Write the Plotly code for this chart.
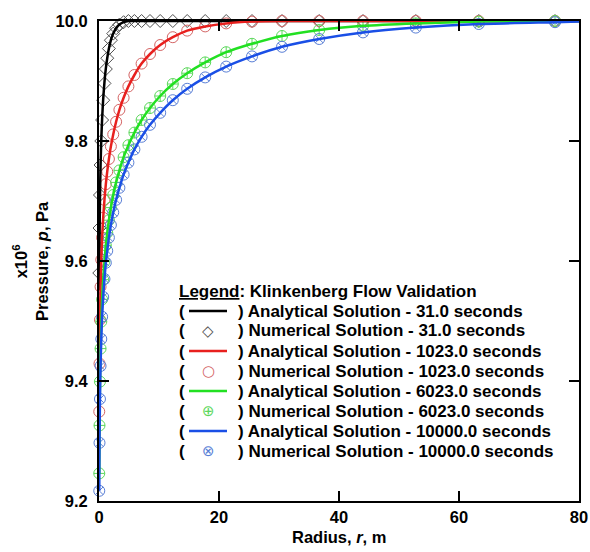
import plotly.graph_objects as go

# ---------------- data ----------------
r_num = [0.043, 0.085, 0.16, 0.26, 0.38, 0.52, 0.70, 0.91, 1.14, 1.37, 1.65, 1.98,
         2.37, 2.85, 3.4, 4.1, 4.9, 5.9, 7.1, 8.5, 10.2, 12.3, 14.7, 17.7, 21.2,
         25.5, 30.5, 36.7, 44.0, 52.8, 63.3, 76.0]

num_31 = [9.580, 9.655, 9.710, 9.760, 9.800, 9.835, 9.868, 9.896, 9.920, 9.938, 9.954, 9.968,
          9.979, 9.988, 9.994, 9.998, 10.0, 10.0, 10.0, 10.0, 10.0, 10.0, 10.0, 10.0, 10.0,
          10.0, 10.0, 10.0, 10.0, 10.0, 10.0, 10.0]
num_1023 = [9.349, 9.429, 9.502, 9.557, 9.602, 9.639, 9.672, 9.702, 9.728, 9.749, 9.770, 9.791,
            9.811, 9.832, 9.852, 9.872, 9.891, 9.910, 9.929, 9.945, 9.960, 9.973, 9.984, 9.991,
            9.996, 9.999, 10.0, 10.0, 10.0, 10.0, 10.0, 10.0]
num_6023 = [9.246, 9.326, 9.399, 9.454, 9.499, 9.536, 9.569, 9.599, 9.626, 9.647, 9.668, 9.689,
            9.710, 9.731, 9.751, 9.773, 9.793, 9.814, 9.835, 9.855, 9.875, 9.895, 9.913, 9.931,
            9.948, 9.962, 9.975, 9.985, 9.992, 9.996, 9.999, 10.0]
num_10000 = [9.217, 9.297, 9.370, 9.425, 9.470, 9.507, 9.540, 9.570, 9.597, 9.617, 9.639, 9.660,
             9.681, 9.702, 9.722, 9.744, 9.764, 9.786, 9.807, 9.827, 9.847, 9.868, 9.887, 9.906,
             9.924, 9.941, 9.957, 9.970, 9.981, 9.989, 9.995, 9.998]

r_ana = [0.043, 0.085, 0.16, 0.26, 0.38, 0.52, 0.70, 0.91, 1.14, 1.37, 1.65, 1.98,
         2.37, 2.85, 3.4, 4.1, 4.9, 5.9, 7.1, 8.5, 10.2, 12.3, 14.7, 17.7, 21.2,
         25.5, 30.5, 36.7, 44.0, 52.8, 63.3, 76.0, 80.0]
ana_31 = [9.551, 9.631, 9.704, 9.759, 9.802, 9.837, 9.870, 9.898, 9.921, 9.938, 9.954, 9.968,
          9.979, 9.988, 9.994, 9.998, 10.0, 10.0, 10.0, 10.0, 10.0, 10.0, 10.0, 10.0, 10.0,
          10.0, 10.0, 10.0, 10.0, 10.0, 10.0, 10.0, 10.0]
ana_1023 = [9.349, 9.429, 9.502, 9.557, 9.602, 9.639, 9.672, 9.702, 9.728, 9.749, 9.770, 9.791,
            9.811, 9.832, 9.852, 9.872, 9.891, 9.910, 9.929, 9.945, 9.960, 9.973, 9.984, 9.991,
            9.996, 9.999, 10.0, 10.0, 10.0, 10.0, 10.0, 10.0, 10.0]
ana_6023 = [9.246, 9.326, 9.399, 9.454, 9.499, 9.536, 9.569, 9.599, 9.626, 9.647, 9.668, 9.689,
            9.710, 9.731, 9.751, 9.773, 9.793, 9.814, 9.835, 9.855, 9.875, 9.895, 9.913, 9.931,
            9.948, 9.962, 9.975, 9.985, 9.992, 9.996, 9.999, 10.0, 10.0]
ana_10000 = [9.217, 9.297, 9.370, 9.425, 9.470, 9.507, 9.540, 9.570, 9.597, 9.617, 9.639, 9.660,
             9.681, 9.702, 9.722, 9.744, 9.764, 9.786, 9.807, 9.827, 9.847, 9.868, 9.887, 9.906,
             9.924, 9.941, 9.957, 9.970, 9.981, 9.989, 9.995, 9.998, 9.999]

times = ["31.0", "1023.0", "6023.0", "10000.0"]
x_ticks = [0, 20, 40, 60, 80]
y_ticks = [9.2, 9.4, 9.6, 9.8, 10.0]
y_tick_text = ["9.2", "9.4", "9.6", "9.8", "10.0"]

# ---------------- styles ----------------
line_colors = ["#000000", "#e8201e", "#22e022", "#1a4fe6"]
marker_colors = ["#505050", "#d46464", "#5cd85c", "#5a7fd6"]
marker_symbols = ["diamond-open", "circle-open", "circle-cross-open", "circle-x-open"]
marker_sizes = [10, 11, 11, 11]
legend_glyphs = ["\u25C7", "\u25CB", "\u2295", "\u2297"]

FONT = "Liberation Sans, Arial, sans-serif"

fig = go.Figure()

nums = [num_31, num_1023, num_6023, num_10000]
anas = [ana_31, ana_1023, ana_6023, ana_10000]

for i in range(4):
    fig.add_trace(go.Scatter(
        x=r_num, y=nums[i], mode="markers", cliponaxis=False,
        marker=dict(symbol=marker_symbols[i], size=marker_sizes[i],
                    color=marker_colors[i], line=dict(width=1, color=marker_colors[i])),
        name=f"Numerical Solution - {times[i]} seconds", showlegend=False))

for i in range(4):
    fig.add_trace(go.Scatter(
        x=r_ana, y=anas[i], mode="lines", cliponaxis=True,
        line=dict(color=line_colors[i], width=2.5, shape="spline", smoothing=0.6),
        name=f"Analytical Solution - {times[i]} seconds", showlegend=False))

axis_common = dict(
    showline=True, linewidth=2, linecolor="black", mirror="ticks",
    ticks="inside", ticklen=10, tickwidth=2, tickcolor="black",
    showgrid=False, zeroline=False, automargin=False,
    tickfont=dict(family=FONT, size=16.5, color="black", weight="bold"),
)

fig.update_xaxes(range=[0, 80], tickvals=x_ticks, ticktext=[str(v) for v in x_ticks],
                 **axis_common)
fig.update_yaxes(range=[9.2, 10.0], tickvals=y_ticks, ticktext=y_tick_text,
                 ticklabelstandoff=6, **axis_common)

# plot area in pixels: left 99, right 579, top 21, bottom 501
L, R, T, B = 99, 579, 21, 501
W, H = R - L, B - T

def px(xp):
    return (xp - L) / W

def py(yp):
    return (B - yp) / H

annotations = []
shapes = []

# axis titles
annotations.append(dict(
    text="<b>Radius, <i>r</i>, m</b>", xref="paper", yref="paper",
    x=0.5, y=py(537), xanchor="center", yanchor="middle", showarrow=False,
    font=dict(family=FONT, size=16.5, color="black")))
annotations.append(dict(
    text="<b>x10<sup>6</sup></b><br><b>Pressure, <i>p</i>, Pa</b>", xref="paper", yref="paper",
    x=px(30), y=0.5, xanchor="center", yanchor="middle", showarrow=False, textangle=-90,
    font=dict(family=FONT, size=16.5, color="black")))

# legend block
LEG_FONT = dict(family=FONT, size=17, color="black")
annotations.append(dict(
    text="<b><u>Legend</u>: Klinkenberg Flow Validation</b>", xref="paper", yref="paper",
    x=px(177), y=py(291), xanchor="left", yanchor="middle", showarrow=False, font=LEG_FONT))

row = 0
for i in range(4):
    for kind in ("ana", "num"):
        yc = 311 + 20 * row
        annotations.append(dict(text="<b>(</b>", xref="paper", yref="paper",
                                x=px(177), y=py(yc), xanchor="left", yanchor="middle",
                                showarrow=False, font=LEG_FONT))
        if kind == "ana":
            label = f"<b>) Analytical Solution - {times[i]} seconds</b>"
            shapes.append(dict(type="line", xref="paper", yref="paper",
                               x0=px(189), x1=px(227), y0=py(yc), y1=py(yc),
                               line=dict(color=line_colors[i], width=2.5)))
        else:
            label = f"<b>) Numerical Solution - {times[i]} seconds</b>"
            annotations.append(dict(text=legend_glyphs[i], xref="paper", yref="paper",
                                    x=px(208), y=py(yc), xanchor="center", yanchor="middle",
                                    showarrow=False,
                                    font=dict(family="DejaVu Sans", size=15,
                                              color=marker_colors[i])))
        annotations.append(dict(text=label, xref="paper", yref="paper",
                                x=px(236), y=py(yc), xanchor="left", yanchor="middle",
                                showarrow=False, font=LEG_FONT))
        row += 1

fig.update_layout(
    width=590, height=552,
    margin=dict(l=L, r=590 - R, t=T, b=552 - B),
    plot_bgcolor="white", paper_bgcolor="white",
    showlegend=False,
    annotations=annotations, shapes=shapes,
    font=dict(family=FONT, color="black"),
)

fig.write_html(
    "out.html",
    config={"displayModeBar": False},
    post_script="document.body.style.margin='0';document.body.style.overflow='hidden';",
)
